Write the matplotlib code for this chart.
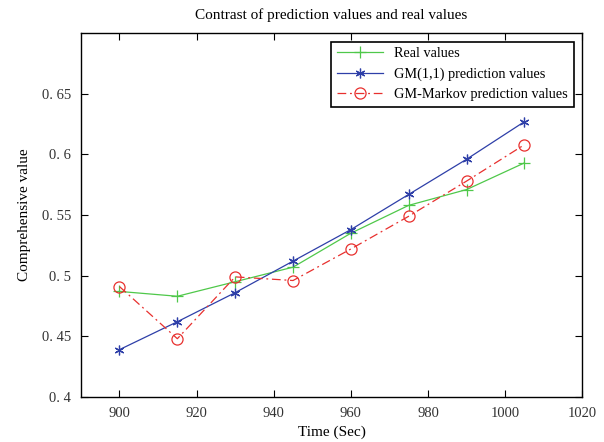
import numpy as np
import matplotlib
matplotlib.use("Agg")
import matplotlib.pyplot as plt

# ======= Data =======
time_sec = [900, 915, 930, 945, 960, 975, 990, 1005]
real_values = [0.487, 0.483, 0.495, 0.507, 0.535, 0.558, 0.571, 0.593]
gm_values = [0.439, 0.462, 0.486, 0.512, 0.538, 0.567, 0.596, 0.627]
markov_values = [0.491, 0.448, 0.499, 0.496, 0.522, 0.549, 0.578, 0.608]

x_ticks = [900, 920, 940, 960, 980, 1000, 1020]
y_ticks = [0.4, 0.45, 0.5, 0.55, 0.6, 0.65]
y_tick_labels = ["0. 4", "0. 45", "0. 5", "0. 55", "0. 6", "0. 65"]

plt.rcParams['font.family'] = ['Liberation Serif', 'DejaVu Serif']

fig = plt.figure(figsize=(6.04, 4.42), dpi=100)
ax = fig.add_axes([0.134, 0.102, 0.830, 0.823])

ax.plot(time_sec, real_values, color='#4fc84a', lw=0.9, marker='+', ms=8,
        mew=0.9, label='Real values')
ax.plot(time_sec, gm_values, color='#2e3fa8', lw=0.9, marker=(6, 2, 0), ms=7,
        mew=0.9, label='GM(1,1) prediction values')
ax.plot(time_sec, markov_values, color='#e8302e', lw=0.9, ls=(0, (7, 3, 1.5, 3)),
        marker='o', ms=8, mfc='none', mew=0.9, label='GM-Markov prediction values')

ax.set_xlim(890, 1020)
ax.set_ylim(0.4, 0.7)
ax.set_xticks(x_ticks)
ax.set_yticks(y_ticks)
ax.set_yticklabels(y_tick_labels)
ax.tick_params(direction='in', top=True, right=True, labelsize=10.5, length=5,
               width=0.8, pad=7, labelcolor='#333333')
for s in ax.spines.values():
    s.set_linewidth(1.0)

ax.set_title("Contrast of prediction values and real values", fontsize=11, pad=10)
ax.set_xlabel("Time (Sec)", fontsize=11)
ax.set_ylabel("Comprehensive value", fontsize=11, labelpad=8)

leg = ax.legend(loc='upper right', fontsize=10.3, fancybox=False, framealpha=1,
                edgecolor='black', handlelength=3.2, borderaxespad=0.6)
leg.get_frame().set_linewidth(1.2)

fig.savefig("out.png", dpi=100)
